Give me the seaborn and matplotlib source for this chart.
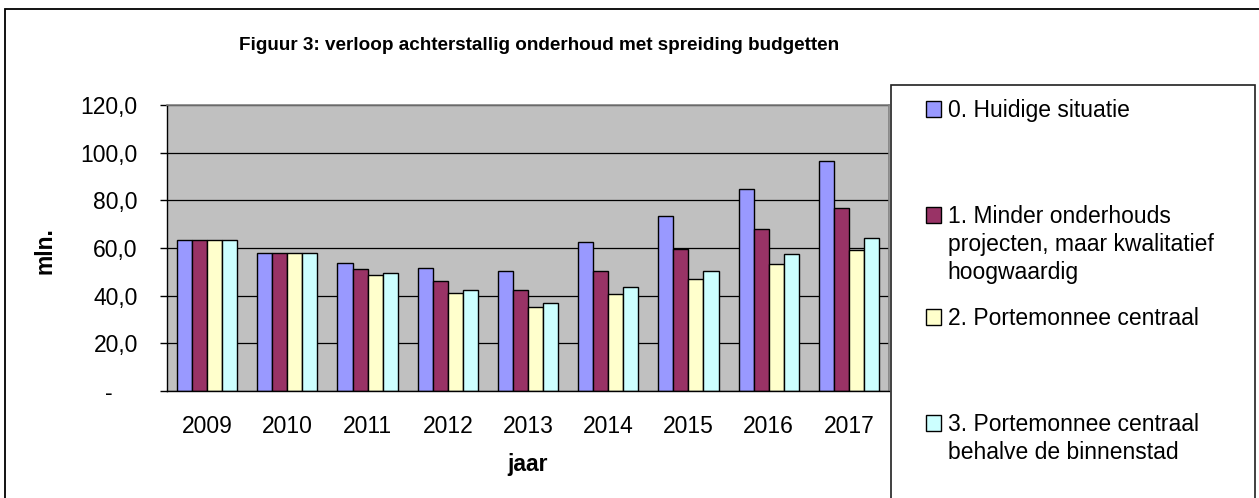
import pandas as pd
import matplotlib
matplotlib.use('Agg')
import matplotlib.pyplot as plt
import seaborn as sns
from matplotlib.patches import Rectangle

# Gegevens (mln.)
jaren = ['2009', '2010', '2011', '2012', '2013', '2014', '2015', '2016', '2017']
scenarios = [
    '0. Huidige situatie',
    '1. Minder onderhouds\nprojecten, maar kwalitatief\nhoogwaardig',
    '2. Portemonnee centraal',
    '3. Portemonnee centraal\nbehalve de binnenstad',
]
huidige_situatie = [63.5, 58.0, 53.6, 51.8, 50.5, 62.4, 73.6, 84.8, 96.5]
minder_onderhoud = [63.5, 58.0, 51.2, 46.3, 42.5, 50.5, 59.5, 68.0, 76.7]
portemonnee = [63.5, 58.0, 48.7, 41.3, 35.1, 40.7, 46.9, 53.3, 59.3]
portemonnee_excl_binnenstad = [63.5, 58.0, 49.4, 42.5, 37.1, 43.8, 50.5, 57.5, 64.3]
y_ticks = [0, 20, 40, 60, 80, 100, 120]

kleuren = ['#9999FF', '#993366', '#FFFFCC', '#CCFFFF']

series = [huidige_situatie, minder_onderhoud, portemonnee, portemonnee_excl_binnenstad]
rows = []
for naam, waarden in zip(scenarios, series):
    for jaar, w in zip(jaren, waarden):
        rows.append({'jaar': jaar, 'scenario': naam, 'waarde': w})
data = pd.DataFrame(rows)

sns.set_style('white')
plt.rcParams['font.family'] = ['Liberation Sans', 'DejaVu Sans']
plt.rcParams['text.color'] = 'black'
plt.rcParams['axes.labelcolor'] = 'black'
plt.rcParams['xtick.color'] = 'black'
plt.rcParams['ytick.color'] = 'black'
fs = 16.5

W, H = 1259, 498
def fx(px):
    return px / W
def fy(py):
    return 1 - py / H

fig = plt.figure(figsize=(W / 100, H / 100), dpi=100)
fig.patch.set_facecolor('white')

# buitenkader van de grafiek
fig.patches.append(Rectangle((fx(5), -0.1), 1.2, fy(9) + 0.1, transform=fig.transFigure,
                             fill=False, edgecolor='black', linewidth=1.3, zorder=0))
# legenda-kader
fig.patches.append(Rectangle((fx(891), -0.1), fx(1255) - fx(891), fy(85) + 0.1,
                             transform=fig.transFigure, facecolor='white',
                             edgecolor='#202020', linewidth=1.2, zorder=1))

ax = fig.add_axes([fx(167), fy(391), fx(889) - fx(167), fy(105) - fy(391)])
ax.set_facecolor('#C0C0C0')

sns.barplot(data=data, x='jaar', y='waarde', hue='scenario', hue_order=scenarios,
            palette=kleuren, saturation=1, edgecolor='black', linewidth=1.0,
            width=0.75, ax=ax)
handles, labels = ax.get_legend_handles_labels()
ax.get_legend().remove()

ax.set_xlim(-0.5, len(jaren) - 0.5)
ax.set_ylim(0, 120)
ax.set_yticks(y_ticks)
ax.set_yticklabels(['-    '] + [f'{v:.1f}'.replace('.', ',') for v in y_ticks[1:]])
ax.yaxis.grid(True, color='black', linewidth=0.9)
ax.set_axisbelow(True)

ax.set_xticks([i - 0.5 for i in range(len(jaren) + 1)], minor=True)
ax.tick_params(axis='x', which='major', length=0, pad=17.5, labelsize=fs, labelcolor='black')
ax.tick_params(axis='x', which='minor', length=5, width=1, color='black', direction='out')
ax.tick_params(axis='y', which='major', length=5, width=1, color='black', direction='out',
               pad=16, labelsize=fs, left=True, labelcolor='black')

for kant in ['left', 'bottom']:
    ax.spines[kant].set_color('black')
    ax.spines[kant].set_linewidth(1.0)
for kant in ['top', 'right']:
    ax.spines[kant].set_color('#808080')
    ax.spines[kant].set_linewidth(1.2)

ax.set_xlabel('jaar', fontsize=fs, fontweight='bold', color='black')
ax.xaxis.set_label_coords(0.5, -(453 - 391) / (391 - 105))
ax.set_ylabel('mln.', fontsize=fs, fontweight='bold', color='black')
ax.yaxis.set_label_coords((57 - 167) / (889 - 167), 0.49)

fig.text(fx(539), fy(45), 'Figuur 3: verloop achterstallig onderhoud met spreiding budgetten',
         ha='center', va='center', fontsize=13.6, fontweight='bold', color='black')

# legenda: elke regel op zijn eigen plek zoals in Excel
legend_top = [99, 205, 307, 413]
legends = []
for h, lab, top in zip(handles, labels, legend_top):
    regels = lab.split('\n')
    leg = fig.legend([h], [regels[0]], loc='upper left', bbox_to_anchor=(fx(926), fy(top)),
                     frameon=False, borderpad=0, borderaxespad=0, fontsize=fs,
                     handlelength=0.64, handleheight=0.64, handletextpad=0.3,
                     labelcolor='black')
    leg.set_zorder(5)
    legends.append((leg, regels[1:]))

fig.canvas.draw()
for leg, rest in legends:
    bb = leg.get_texts()[0].get_window_extent()
    for i, regel in enumerate(rest, start=1):
        fig.text(bb.x0 / W, (bb.y1 - 28 * i) / H, regel, ha='left', va='top',
                 fontsize=fs, color='black', zorder=5)

fig.savefig('out.png', dpi=100)
